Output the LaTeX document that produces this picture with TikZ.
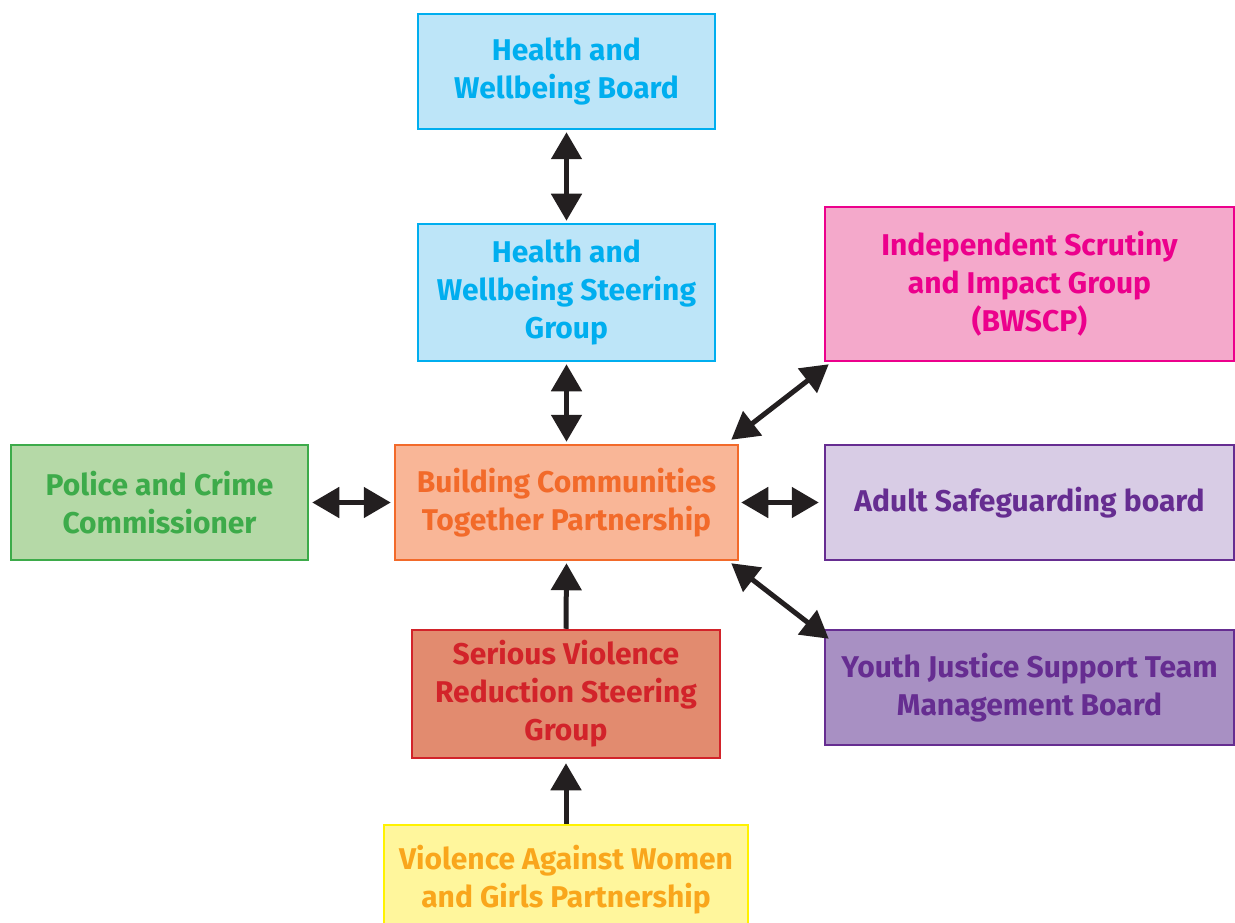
\documentclass[tikz,border=0pt]{standalone}
\usepackage{fontspec}
\setmainfont{Fira Sans}
\usetikzlibrary{arrows.meta}
\definecolor{blueB}{HTML}{00AEEF}\definecolor{blueF}{HTML}{BDE5F8}
\definecolor{pinkB}{HTML}{EC008C}\definecolor{pinkF}{HTML}{F4A9CB}
\definecolor{greenB}{HTML}{3DAB4A}\definecolor{greenF}{HTML}{B5D9A7}
\definecolor{orangeB}{HTML}{F26A2A}\definecolor{orangeF}{HTML}{F9B697}
\definecolor{purpB}{HTML}{662D91}\definecolor{lavF}{HTML}{D8CCE5}
\definecolor{purpF}{HTML}{A890C3}
\definecolor{redB}{HTML}{D2232A}\definecolor{redF}{HTML}{E28B6F}
\definecolor{yelB}{HTML}{FFF200}\definecolor{yelF}{HTML}{FFF69C}
\definecolor{yelT}{HTML}{F9A61C}
\definecolor{arr}{HTML}{231F20}
\tikzset{
  box/.style={draw, line width=2.5pt, align=center, inner sep=0pt,
    font=\fontsize{30}{38}\selectfont\bfseries},
  link/.style={draw=arr, line width=5pt, {Triangle[width=30pt,length=27pt]}-{Triangle[width=30pt,length=27pt]}},
  uplink/.style={draw=arr, line width=5pt, -{Triangle[width=30pt,length=27pt]}},
}
\begin{document}
\begin{tikzpicture}[x=1pt,y=-1pt]
\useasboundingbox (0,0) rectangle (1235,923);
\clip (0,0) rectangle (1235,923);
\node[box, draw=blueB, fill=blueF, text=blueB, minimum width=297pt, minimum height=115pt] (hwb) at (566.5,71.5) {Health and\\Wellbeing Board};
\node[box, draw=blueB, fill=blueF, text=blueB, minimum width=297pt, minimum height=137pt] (hwsg) at (566.5,292.5) {Health and\\Wellbeing Steering\\Group};
\node[box, draw=pinkB, fill=pinkF, text=pinkB, minimum width=409pt, minimum height=154pt] (isig) at (1029.5,284) {Independent Scrutiny\\and Impact Group\\(BWSCP)};
\node[box, draw=greenB, fill=greenF, text=greenB, minimum width=297pt, minimum height=115pt] (pcc) at (159.5,502.5) {Police and Crime\\Commissioner};
\node[box, draw=orangeB, fill=orangeF, text=orangeB, minimum width=343pt, minimum height=115pt] (bctp) at (566.5,502.5) {Building Communities\\Together Partnership};
\node[box, draw=purpB, fill=lavF, text=purpB, minimum width=409pt, minimum height=115pt] (asb) at (1029.5,502.5) {Adult Safeguarding board};
\node[box, draw=redB, fill=redF, text=redB, minimum width=308pt, minimum height=128pt] (svr) at (566,694) {Serious Violence\\Reduction Steering\\Group};
\node[box, draw=purpB, fill=purpF, text=purpB, minimum width=409pt, minimum height=115pt] (yjst) at (1029.5,687.5) {Youth Justice Support Team\\Management Board};
\node[box, draw=yelB, fill=yelF, text=yelT, minimum width=364pt, minimum height=110pt] (vawg) at (566,880) {Violence Against Women\\and Girls Partnership};

\draw[link] ([yshift=-2pt]hwb.south) -- ([yshift=2pt]hwsg.north);
\draw[link] ([yshift=-2pt]hwsg.south) -- ([yshift=2pt]bctp.north);
\draw[link] ([xshift=3pt]pcc.east) -- ([xshift=-3pt]bctp.west);
\draw[link] ([xshift=2pt]bctp.east) -- ([xshift=-5pt]asb.west);
\draw[link] ([xshift=-8pt,yshift=4pt]bctp.north east) -- ([xshift=5pt,yshift=-2pt]isig.south west);
\draw[link] ([xshift=-8pt,yshift=-2pt]bctp.south east) -- ([xshift=5pt,yshift=-10pt]yjst.north west);
\draw[uplink] (svr.north) -- ([yshift=-2pt]bctp.south);
\draw[uplink] (vawg.north) -- ([yshift=-4pt]svr.south);
\end{tikzpicture}
\end{document}
